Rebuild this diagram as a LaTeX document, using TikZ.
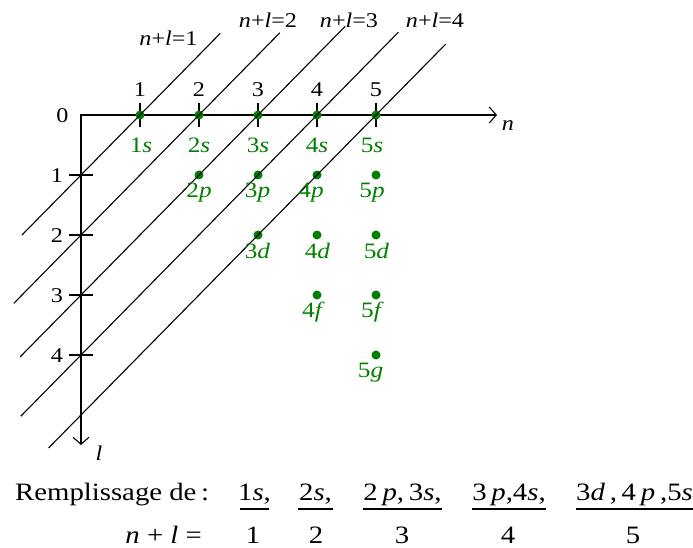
\documentclass[tikz,border=0pt]{standalone}
\usepackage{fontspec}
\setmainfont{Liberation Serif}
\usetikzlibrary{arrows.meta}
\definecolor{orbgreen}{RGB}{0,128,0}
\newcommand\hx[1]{\scalebox{1.15}[1]{#1}}
\begin{document}
\begin{tikzpicture}[x=1pt,y=-1pt,
  ln/.style={line width=1.1pt},
  ax/.style={line width=1.1pt,{Straight Barb[length=7pt,width=16pt]}-{Straight Barb[length=7pt,width=16pt]}},
  dot/.style={circle,fill=orbgreen,inner sep=0pt,minimum size=9pt},
  tl/.style={font=\fontsize{21}{24}\selectfont,inner sep=0pt,anchor=base},
  gl/.style={font=\fontsize{22}{26}\selectfont,text=orbgreen,inner sep=0pt,anchor=base},
  bt/.style={font=\fontsize{25}{30}\selectfont,inner sep=0pt,anchor=base},
  bar/.style={line width=1.1pt}]
\useasboundingbox (0,0) rectangle (693,548);
% axes
\coordinate (O) at (81,115);
\coordinate (nend) at (497,115);
\coordinate (lend) at (81,445);
\draw[ax] (nend) -- (O) -- (lend);
\node[tl] (nlab) at (508,131) {\hx{\textit{n}}};
\node[tl] (llab) at (99,460) {\hx{\textit{l}}};
% ticks and tick labels
\foreach \n in {1,...,5} {
  \coordinate (ta\n) at ({81+59*\n},103);
  \coordinate (tb\n) at ({81+59*\n},127);
  \draw[ln] (ta\n) -- (tb\n);
  \node[tl] (top\n) at ({81+59*\n},97) {\hx{\n}};
}
\node[tl] (zero) at (62.5,123) {\hx{0}};
\foreach \l in {1,...,4} {
  \coordinate (la\l) at (69,{115+60*\l});
  \coordinate (lb\l) at (93,{115+60*\l});
  \draw[ln] (la\l) -- (lb\l);
  \node[tl] (lft\l) at (57,{115+60*\l+7.5}) {\hx{\l}};
}
% dots
\foreach \n in {1,...,5} {
  \pgfmathtruncatemacro\lmax{\n-1}
  \foreach \l in {0,...,\lmax} {
    \node[dot] (o\n\l) at ({81+59*\n},{115+60*\l}) {};
  }
}
% diagonal lines n+l = k
\foreach \k/\u/\v in {1/1.36/1.0, 2/1.37/1.14, 3/1.48/1.03, 4/1.38/1.02, 5/1.18/0.55} {
  \coordinate (up\k) at ({81+59*(\k+\u)},{115-60*\u});
  \coordinate (lo\k) at ({81-59*\v},{115+60*(\k+\v)});
  \draw[ln] (lo\k) -- (up\k);
}
% n+l labels
\node[tl] (nl1) at (168.5,46) {\hx{\textit{n}+\textit{l}=1}};
\node[tl] (nl2) at (268,28) {\hx{\textit{n}+\textit{l}=2}};
\node[tl] (nl3) at (349,28) {\hx{\textit{n}+\textit{l}=3}};
\node[tl] (nl4) at (435,28) {\hx{\textit{n}+\textit{l}=4}};
% orbital labels
\foreach \nm/\x/\y/\t in {1s/141/153/1\textit{s}, 2s/199/153/2\textit{s}, 3s/258/153/3\textit{s}, 4s/317/153/4\textit{s}, 5s/372/153/5\textit{s},
  2p/199/198/2\textit{p}, 3p/257.5/198/3\textit{p}, 4p/311/198/4\textit{p}, 5p/372/198/5\textit{p},
  3d/257.5/258/3\textit{d}, 4d/317.5/258/4\textit{d}, 5d/376.5/258/5\textit{d},
  4f/313.5/317/4\textit{f}, 5f/372.5/317/5\textit{f}, 5g/370.5/377/5\textit{g}} {
  \node[gl] (lab\nm) at (\x,\y) {\hx{\t}};
}
% bottom text
\node[bt,anchor=base west] (rempl) at (15,500) {\hx{Remplissage de\,:}};
\node[bt,anchor=base east] (nplusl) at (202,543) {\hx{\textit{n} + \textit{l} =}};
\node[bt] (f1) at (254.5,500) {\hx{1\textit{s},}};
\node[bt] (f2) at (315.5,500) {\hx{2\textit{s},}};
\node[bt] (f3) at (402.5,500) {\hx{2\,\textit{p},\,3\textit{s},}};
\node[bt] (f4) at (509,500) {\hx{3\,\textit{p},4\textit{s},}};
\node[bt] (f5) at (634.5,500) {\hx{3\textit{d}\,,\,4\,\textit{p}\,,5\textit{s}}};
\foreach \i/\a/\b in {1/240/269, 2/298/333, 3/363/442, 4/472/546, 5/576/693} {
  \coordinate (ba\i) at (\a,509);
  \coordinate (bb\i) at (\b,509);
  \draw[bar] (ba\i) -- (bb\i);
}
\node[bt] (d1) at (253,543) {\hx{1}};
\node[bt] (d2) at (316,543) {\hx{2}};
\node[bt] (d3) at (402,543) {\hx{3}};
\node[bt] (d4) at (508,543) {\hx{4}};
\node[bt] (d5) at (633,543) {\hx{5}};
\end{tikzpicture}
\end{document}
